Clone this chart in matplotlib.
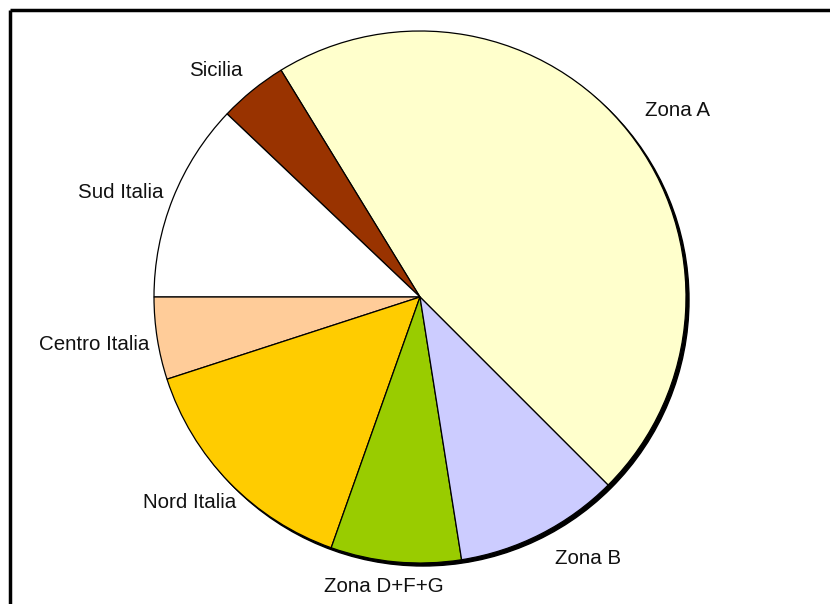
import matplotlib.pyplot as plt
from matplotlib.patches import Circle

# slice values (degrees of the pie)
labels = ['Zona A', 'Sicilia', 'Sud Italia', 'Centro Italia',
          'Nord Italia', 'Zona D+F+G', 'Zona B']
values = [166.5, 15, 43.5, 18, 52.5, 28.5, 36]
colors = ['#FFFFCC', '#993300', '#FFFFFF', '#FFCC99',
          '#FFCC00', '#99CC00', '#CCCCFF']

# label positions in pixel coordinates (x, y from top)
label_pos = [(677, 110), (216, 70), (121, 192), (94, 344),
             (190, 503), (384, 587), (588, 558)]

W, H = 830, 604
fig = plt.figure(figsize=(W / 100, H / 100), dpi=100)
ax = fig.add_axes([0, 0, 1, 1])

cx, cy, r = 420, H - 297, 266

# drop shadow behind the pie
ax.add_patch(Circle((cx + 3, cy - 3), r, color='black', zorder=0))

ax.pie(values, colors=colors, startangle=-45, counterclock=True,
       center=(cx, cy), radius=r, frame=True,
       wedgeprops=dict(edgecolor='black', linewidth=0.9))
ax.set_xlim(0, W)
ax.set_ylim(0, H)
ax.axis('off')

for lab, (x, y) in zip(labels, label_pos):
    ax.text(x, H - y, lab, ha='center', va='center', fontsize=14.8,
            family='Liberation Sans', color='#111111')

# frame lines at top and left
ax.plot([10, W], [H - 10, H - 10], color='black', lw=2.5, solid_capstyle='butt')
ax.plot([10, 10], [H - 10, 0], color='black', lw=2.5, solid_capstyle='butt')

fig.savefig('out.png', dpi=100)
